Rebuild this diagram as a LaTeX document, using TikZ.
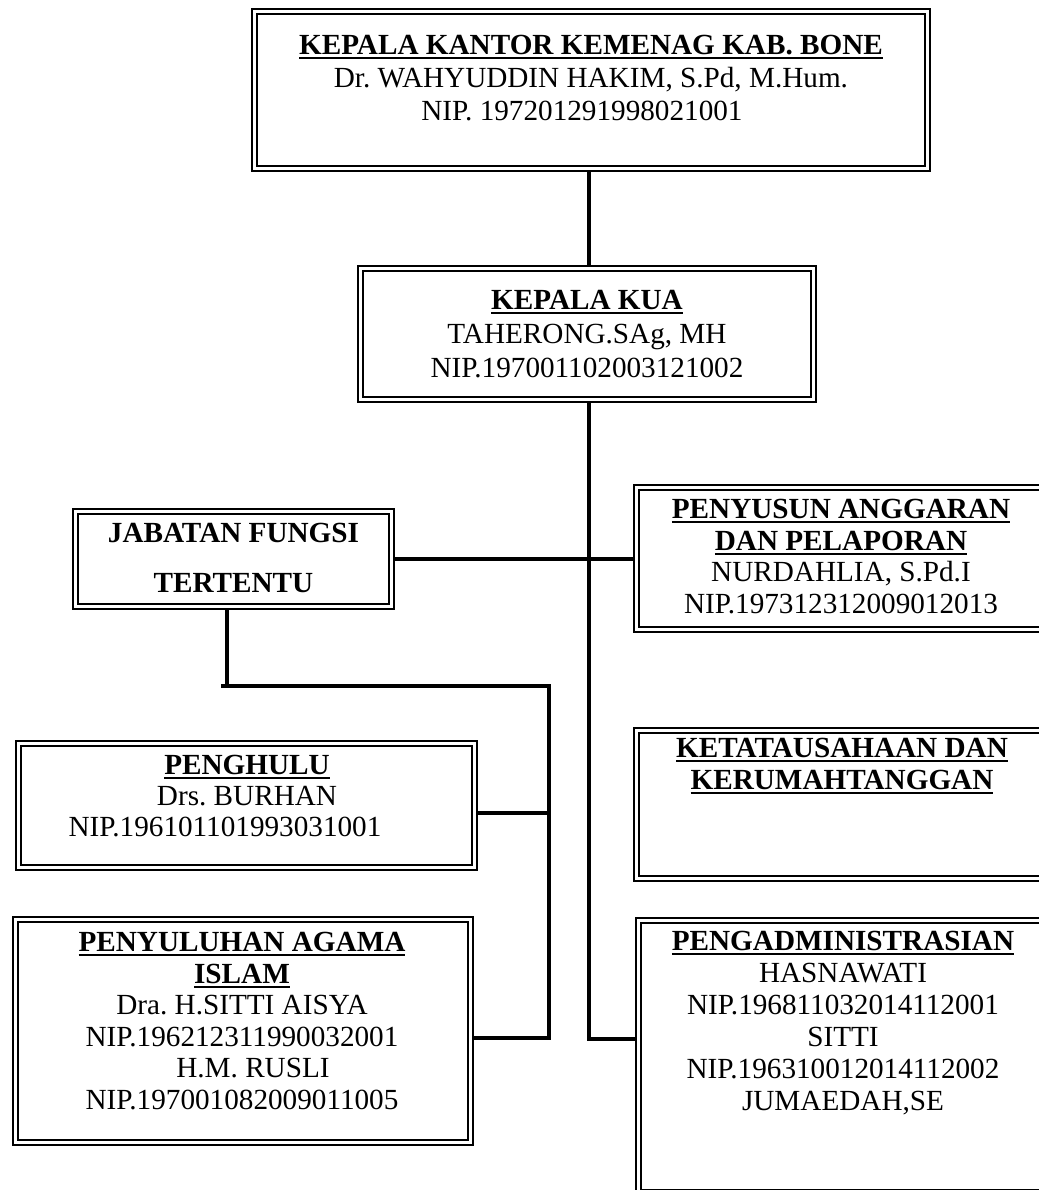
\documentclass[tikz,border=0pt]{standalone}
\usepackage{fontspec}
\setmainfont{Liberation Serif}
\usetikzlibrary{backgrounds}
\frenchspacing
\newcommand\ulx[1]{\setbox0\hbox{#1}\rlap{\rule[-4.5pt]{\wd0}{2pt}}\box0}
\begin{document}
\begin{tikzpicture}[x=1pt,y=-1pt,
  box/.style={draw, double, line width=2.6pt, double distance=2.2pt, inner sep=0pt},
  conn/.style={line width=3.6pt},
  txt/.style={align=center, inner sep=0pt}]
\useasboundingbox (0,0) rectangle (1038,1190);
% boxes
\node[box, minimum width=673pt, minimum height=157pt] (kantor) at (591,90) {};
\node[box, minimum width=453pt, minimum height=131pt] (kua) at (587,334) {};
\node[box, minimum width=316pt, minimum height=95pt] (jft) at (233.5,559) {};
\node[box, minimum width=409pt, minimum height=142pt] (penyusun) at (841,558.5) {};
\node[box, minimum width=409pt, minimum height=148pt] (keta) at (841,804.5) {};
\node[box, minimum width=409pt, minimum height=272pt] (pengadmin) at (843,1056.5) {};
\node[box, minimum width=456pt, minimum height=124pt] (penghulu) at (246.5,805.5) {};
\node[box, minimum width=455pt, minimum height=223pt] (penyuluhan) at (243,1031) {};
% texts
\node[txt, font=\fontsize{29.2}{33}\selectfont] (tkantor) at (591,78)
  {\textbf{\ulx{KEPALA KANTOR KEMENAG KAB. BONE}}\\Dr. WAHYUDDIN HAKIM, S.Pd, M.Hum.\\NIP. 197201291998021001\hspace*{18pt}};
\node[txt, font=\fontsize{29.2}{34}\selectfont] (tkua) at (587,334)
  {\textbf{\ulx{KEPALA KUA}}\\TAHERONG.SAg, MH\\NIP.197001102003121002};
\node[txt, font=\fontsize{29.2}{50}\selectfont\bfseries] (tjft) at (233.5,558)
  {JABATAN FUNGSI\\TERTENTU};
\node[txt, font=\fontsize{29.2}{31.7}\selectfont] (tpenyusun) at (841,556.5)
  {\textbf{\ulx{PENYUSUN ANGGARAN}}\\\textbf{\ulx{DAN PELAPORAN}}\\NURDAHLIA, S.Pd.I\\NIP.197312312009012013};
\node[txt, font=\fontsize{29.2}{32}\selectfont] (tketa) at (842,766)
  {\textbf{\ulx{KETATAUSAHAAN DAN}}\\\textbf{\ulx{KERUMAHTANGGAN}}};
\node[txt, font=\fontsize{29.2}{32}\selectfont] (tpengadmin) at (843,1023)
  {\textbf{\ulx{PENGADMINISTRASIAN}}\\HASNAWATI\\NIP.196811032014112001\\SITTI\\NIP.196310012014112002\\JUMAEDAH,SE};
\node[txt, font=\fontsize{29.2}{31}\selectfont] (tpenghulu) at (247,796)
  {\textbf{\ulx{PENGHULU}}\\Drs. BURHAN\\NIP.196101101993031001\hspace*{44pt}};
\node[txt, font=\fontsize{29.2}{31.5}\selectfont] (tpenyuluhan) at (242,1021)
  {\textbf{\ulx{PENYULUHAN AGAMA}}\\\textbf{\ulx{ISLAM}}\\Dra. H.SITTI AISYA\\NIP.196212311990032001\\\hspace*{22pt}H.M. RUSLI\\NIP.197001082009011005};
% junction points
\coordinate (spine) at (589,0);
\coordinate (sp2) at (589,1039);
\coordinate (l0) at (221,686);
\coordinate (l1) at (227,686);
\coordinate (l2) at (549,686);
\coordinate (l3) at (549,813);
\coordinate (l4) at (549,1038);
\begin{pgfonlayer}{background}
\draw[conn] (kantor.south -| spine) -- (kua.north -| spine);
\draw[conn] (kua.south -| spine) -- (sp2) -- (pengadmin.west |- sp2);
\draw[conn] (jft.east) -- (jft.east -| penyusun.west);
\draw[conn] (jft.south -| l1) -- (l1);
\draw[conn] (l0) -- (l2) -- (l4) -- (penyuluhan.east |- l4);
\draw[conn] (l3) -- (penghulu.east |- l3);
\end{pgfonlayer}
\end{tikzpicture}
\end{document}
